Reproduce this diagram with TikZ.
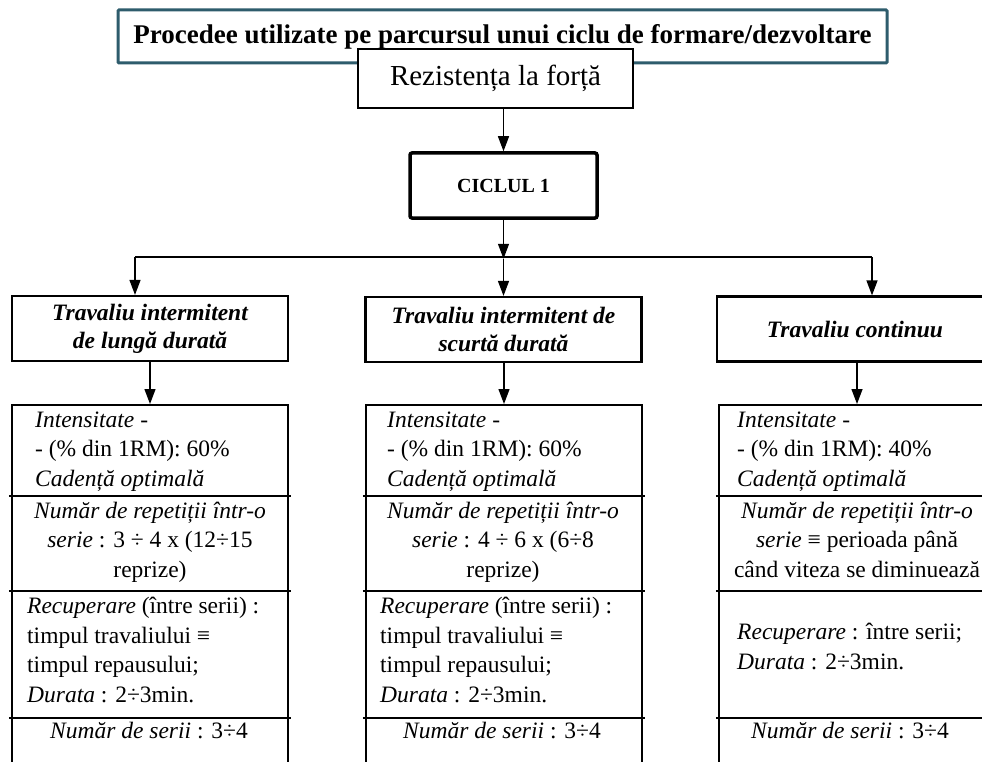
\documentclass[tikz,border=0pt]{standalone}
\usepackage{fontspec}
\setmainfont{Liberation Serif}
\usetikzlibrary{arrows.meta}
\definecolor{titleteal}{RGB}{46,92,108}

\begin{document}
\begin{tikzpicture}[x=1pt,y=-1pt,
  conn/.style={line width=1.3pt},
  arr/.style={conn,-{Triangle[width=11pt,length=15pt]}},
  body/.style={font=\fontsize{23.5}{29.5}\selectfont, inner sep=0pt},
  headbox/.style={draw, line width=2.2pt, fill=white, minimum width=276pt,
    minimum height=65pt, align=center, inner sep=2pt,
    font=\fontsize{23.5}{28}\selectfont\bfseries\itshape},
  colbox/.style={draw, line width=2.4pt, minimum width=276pt,
    minimum height=400pt, anchor=north},
  divider/.style={line width=1.4pt}]

\useasboundingbox (0,0) rectangle (982,762);
\clip (0,0) rectangle (982,762);
\fill[white] (0,0) rectangle (982,762);

% title and theme
\node[draw=titleteal, line width=3pt, rounded corners=1pt,
      minimum width=769pt, minimum height=53pt, inner sep=0pt,
      font=\fontsize{27}{32}\selectfont\bfseries] (title) at (502.5,36.5)
  {Procedee utilizate pe parcursul unui ciclu de formare/dezvoltare};
\node[draw, line width=2pt, fill=white, minimum width=275pt,
      minimum height=59pt, inner sep=0pt,
      font=\fontsize{29}{34}\selectfont] (rez) at (495.5,78.5)
  {Rezistența la forță};

% cycle
\node[draw, line width=3.5pt, rounded corners=2pt, minimum width=187pt,
      minimum height=65pt, font=\fontsize{20}{24}\selectfont\bfseries]
  (cic) at (503.5,185.5) {CICLUL 1};

% work types
\node[headbox] (h1) at (150,328.5) {Travaliu intermitent\\de lungă durată};
\node[headbox] (h2) at (503.5,329.5) {Travaliu intermitent de\\scurtă durată};
\node[headbox] (h3) at (855,329) {Travaliu continuu};

% detail columns
\node[colbox] (c1) at (150,404) {};
\node[colbox] (c2) at (504,404) {};
\node[colbox] (c3) at (857,404) {};
\foreach \c in {c1,c2,c3}{
  \foreach \dy in {92,187,314}{
    \draw[divider] ([xshift=-2pt,yshift=-\dy pt]\c.north west)
      -- ([xshift=2pt,yshift=-\dy pt]\c.north east);
  }
}

% connectors
\draw[arr] (rez.south -| cic.north) -- (cic.north);
\path (cic.south) ++(0,39) coordinate (j);
\coordinate (bl) at (135,257);
\coordinate (br) at (872,257);
\draw[arr] (cic.south) -- (j);
\draw[conn] (bl) -- (br);
\draw[arr] (bl) -- (bl |- h1.north);
\draw[arr] (j) -- (h2.north);
\draw[arr] (br) -- (br |- h3.north);
\draw[arr] (h1.south) -- (c1.north);
\draw[arr] (h2.south -| c2.north) -- (c2.north);
\draw[arr] (h3.south -| c3.north) -- (c3.north);

% column texts: each node sits on the baseline of its last line
% column 1
\node[body, anchor=base west, align=left] (a1) at (35,486)
  {\textit{Intensitate -}\\- (\% din 1RM): 60\%\\\textit{Cadență optimală}};
\node[body, anchor=base, align=center] (a2) at (150,577)
  {\textit{Număr de repetiții într-o}\\\textit{serie} : 3 ÷ 4 x (12÷15\\reprize)};
\node[body, anchor=base west, align=left] (a3) at (27,702)
  {\textit{Recuperare} (între serii) :\\timpul travaliului ≡\\timpul repausului;\\\textit{Durata} : 2÷3min.};
\node[body, anchor=base] (a4) at (149,738) {\textit{Număr de serii} : 3÷4};

% column 2
\node[body, anchor=base west, align=left] (b1) at (387,486)
  {\textit{Intensitate -}\\- (\% din 1RM): 60\%\\\textit{Cadență optimală}};
\node[body, anchor=base, align=center] (b2) at (503,577)
  {\textit{Număr de repetiții într-o}\\\textit{serie} : 4 ÷ 6 x (6÷8\\reprize)};
\node[body, anchor=base west, align=left] (b3) at (380,702)
  {\textit{Recuperare} (între serii) :\\timpul travaliului ≡\\timpul repausului;\\\textit{Durata} : 2÷3min.};
\node[body, anchor=base] (b4) at (502,738) {\textit{Număr de serii} : 3÷4};

% column 3
\node[body, anchor=base west, align=left] (d1) at (737,486)
  {\textit{Intensitate -}\\- (\% din 1RM): 40\%\\\textit{Cadență optimală}};
\node[body, anchor=base, align=center] (d2) at (857,577)
  {\textit{Număr de repetiții într-o}\\\textit{serie} ≡ perioada până\\când viteza se diminuează};
\node[body, anchor=base west, align=left] (d3) at (737,669)
  {\textit{Recuperare} : între serii;\\\textit{Durata} : 2÷3min.};
\node[body, anchor=base] (d4) at (850,738) {\textit{Număr de serii} : 3÷4};

\end{tikzpicture}
\end{document}
